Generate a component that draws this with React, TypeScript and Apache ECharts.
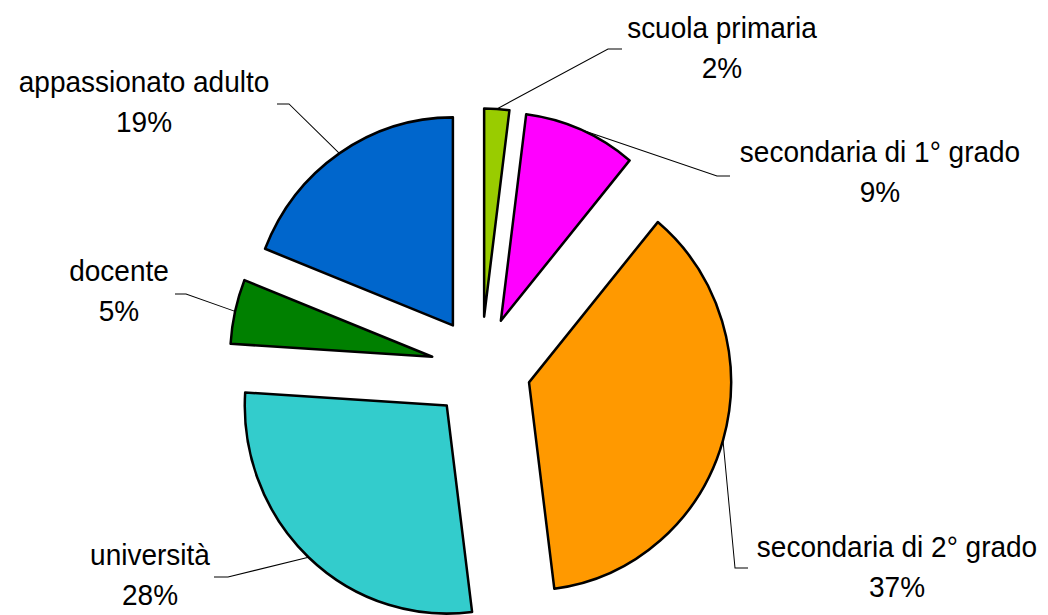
import React, { useEffect, useRef } from 'react';
import * as echarts from 'echarts';

const categories = [
  'scuola primaria',
  'secondaria di 1° grado',
  'secondaria di 2° grado',
  'università',
  'docente',
  'appassionato adulto',
];
const values = [2, 9, 37, 28, 5, 19];
const colors = ['#99CC00', '#FF00FF', '#FF9900', '#33CCCC', '#008000', '#0066CC'];

// layout (screen pixels); the reference is slightly stretched vertically
const W = 1048;
const H = 615;
const SY = 1.03;
const CX = 481;
const CY = 368;
const RADIUS = 202;
const EXPLODE = 50;
const labelCenters: number[][] = [
  [722, 48],
  [880, 172],
  [897, 567],
  [150, 575],
  [119, 291],
  [144, 102],
];
// [bendX, bendY, endX]
const labelBends: number[][] = [
  [608, 49, 622],
  [717, 176, 730],
  [735, 568, 748],
  [228, 577, 214],
  [186, 294, 175],
  [289, 104, 277],
];

export default function App() {
  const ref = useRef<HTMLDivElement>(null);
  useEffect(() => {
    if (!ref.current) return;
    const chart = echarts.init(ref.current, undefined, { renderer: 'svg' });
    const total = values.reduce((a, b) => a + b, 0);
    const cyI = CY / SY;
    let cum = 0;
    const series: any[] = values.map((v, i) => {
      const midDeg = ((cum + v / 2) / total) * 360;
      cum += v;
      const a = (midDeg * Math.PI) / 180;
      const scx = CX + EXPLODE * Math.sin(a);
      const scy = cyI - EXPLODE * Math.cos(a);
      const data = values.map((val, j) => ({
        name: categories[j],
        value: val,
        itemStyle:
          j === i
            ? { color: colors[j], borderColor: '#000', borderWidth: 2.5 }
            : { color: 'rgba(0,0,0,0)', borderWidth: 0 },
        label: { show: j === i },
        labelLine: { show: j === i },
      }));
      return {
        type: 'pie',
        center: [scx, scy],
        radius: [0, RADIUS],
        startAngle: 90,
        clockwise: true,
        avoidLabelOverlap: false,
        silent: true,
        emphasis: { disabled: true },
        data,
        label: {
          show: true,
          formatter: (p: any) => `${p.name}\n${Math.round(p.percent)}%`,
          color: '#000',
          fontSize: 28,
          fontFamily: 'Liberation Sans, Arial, sans-serif',
          lineHeight: 39,
          align: 'center',
        },
        labelLine: {
          show: true,
          lineStyle: { color: '#000', width: 1 },
        },
        labelLayout: (params: any) => {
          if (params.dataIndex !== i) return {};
          const start =
            params.labelLinePoints && params.labelLinePoints[0]
              ? params.labelLinePoints[0]
              : [scx + RADIUS * Math.sin(a), scy - RADIUS * Math.cos(a)];
          const [bx, by, ex] = labelBends[i];
          return {
            x: labelCenters[i][0],
            y: labelCenters[i][1] / SY,
            align: 'center',
            verticalAlign: 'middle',
            labelLinePoints: [start, [bx, by / SY], [ex, by / SY]],
          };
        },
      };
    });
    chart.setOption({
      animation: false,
      backgroundColor: '#fff',
      series,
    });
    return () => chart.dispose();
  }, []);
  return (
    <div
      ref={ref}
      style={{
        position: 'absolute',
        left: 0,
        top: 0,
        width: W,
        height: Math.round(H / SY),
        transform: `scaleY(${SY})`,
        transformOrigin: '0 0',
      }}
    />
  );
}
